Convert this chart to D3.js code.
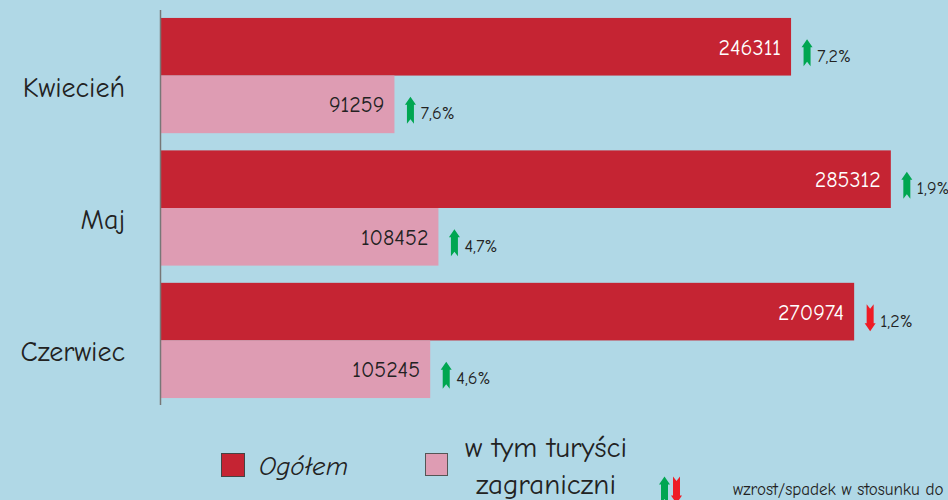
<!DOCTYPE html>
<html>
<head>
<meta charset="utf-8">
<script src="https://cdn.jsdelivr.net/npm/d3@7"></script>
<style>
  body { margin: 0; background: #b0d8e6; }
  svg { display: block; font-family: "Comic Sans MS", "Comic Neue", "DejaVu Sans", sans-serif; }
</style>
</head>
<body>
<div id="chart"></div>
<script>
const months = ["Kwiecień", "Maj", "Czerwiec"];
const seriesNames = ["Ogółem", "w tym turyści zagraniczni"];
const ogolem = [246311, 285312, 270974];
const zagraniczni = [91259, 108452, 105245];
const changeOgolem = [7.2, 1.9, -1.2];
const changeZagraniczni = [7.6, 4.7, 4.6];
const noteText = "wzrost/spadek w stosunku do";

const width = 948, height = 500;
const colors = { "Ogółem": "#c52433", "w tym turyści zagraniczni": "#de9cb3" };
const up = "#00a651", down = "#ee1c25";

const rows = [];
months.forEach((m, i) => {
  rows.push({ month: m, series: seriesNames[0], value: ogolem[i], change: changeOgolem[i] });
  rows.push({ month: m, series: seriesNames[1], value: zagraniczni[i], change: changeZagraniczni[i] });
});

const svg = d3.select("#chart").append("svg")
  .attr("width", width)
  .attr("height", height);

svg.append("rect").attr("width", width).attr("height", height).attr("fill", "#b0d8e6");

const x = d3.scaleLinear().domain([0, 300000]).range([161, 161 + 767.4]);
const y = d3.scaleBand().domain(months).range([10, 406]).paddingInner(0.13).paddingOuter(0.06);
const ySub = d3.scaleBand().domain(seriesNames).range([0, y.bandwidth()]);

// arrow shape, pointing up; flipped for decreases
function arrowPath(dir) {
  const s = dir < 0 ? -1 : 1;
  const p = [[0, -13.5], [5.5, -5.5], [3.5, -5.5], [3.5, 13.5], [0, 9], [-3.5, 13.5], [-3.5, -5.5], [-5.5, -5.5]];
  return "M" + p.map(d => d[0] + "," + d[1] * s).join("L") + "Z";
}
const fmtPct = v => Math.abs(v).toFixed(1).replace(".", ",") + "%";

// bars
const bar = svg.append("g").selectAll("g")
  .data(rows)
  .join("g")
    .attr("transform", d => `translate(0,${y(d.month) + ySub(d.series)})`);

bar.append("rect")
  .attr("x", x(0))
  .attr("width", d => x(d.value) - x(0))
  .attr("height", ySub.bandwidth())
  .attr("fill", d => colors[d.series]);

bar.append("text")
  .attr("x", d => x(d.value) - 10)
  .attr("y", ySub.bandwidth() / 2 + 8)
  .attr("text-anchor", "end")
  .attr("font-size", 22)
  .attr("fill", d => d.series === seriesNames[0] ? "#fff" : "#222")
  .text(d => d.value);

bar.append("path")
  .attr("transform", d => `translate(${x(d.value) + 16},${ySub.bandwidth() / 2 + 6})`)
  .attr("d", d => arrowPath(d.change))
  .attr("fill", d => d.change < 0 ? down : up);

bar.append("text")
  .attr("x", d => x(d.value) + 26)
  .attr("y", ySub.bandwidth() / 2 + 15)
  .attr("font-size", 18)
  .attr("fill", "#222")
  .text(d => fmtPct(d.change));

// category axis
svg.append("line")
  .attr("x1", 160.5).attr("x2", 160.5)
  .attr("y1", 10).attr("y2", 405)
  .attr("stroke", "#777").attr("stroke-width", 1.5);

svg.append("g").selectAll("text")
  .data(months)
  .join("text")
    .attr("x", 125)
    .attr("y", d => y(d) + y.bandwidth() / 2 + 21)
    .attr("text-anchor", "end")
    .attr("font-size", 28)
    .attr("fill", "#222")
    .text(d => d);

// legend
const legend = svg.append("g");
legend.append("rect").attr("x", 221.5).attr("y", 453.5).attr("width", 23).attr("height", 23)
  .attr("fill", colors[seriesNames[0]]).attr("stroke", "#444");
legend.append("text").attr("x", 259).attr("y", 475)
  .attr("font-size", 27).attr("font-style", "italic").attr("fill", "#222")
  .text(seriesNames[0]);

legend.append("rect").attr("x", 425.5).attr("y", 453.5).attr("width", 22).attr("height", 22)
  .attr("fill", colors[seriesNames[1]]).attr("stroke", "#555");
legend.append("text")
  .attr("text-anchor", "middle")
  .attr("font-size", 29).attr("fill", "#222")
  .selectAll("tspan")
  .data(["w tym turyści", "zagraniczni"])
  .join("tspan")
    .attr("x", 546)
    .attr("y", (d, i) => 457 + i * 37)
    .text(d => d);

legend.append("path").attr("transform", "translate(664.5,490)").attr("d", arrowPath(1)).attr("fill", up);
legend.append("path").attr("transform", "translate(676.5,490)").attr("d", arrowPath(-1)).attr("fill", down);
legend.append("text").attr("x", 733).attr("y", 495)
  .attr("font-size", 17).attr("fill", "#222")
  .text(noteText);
</script>
</body>
</html>
